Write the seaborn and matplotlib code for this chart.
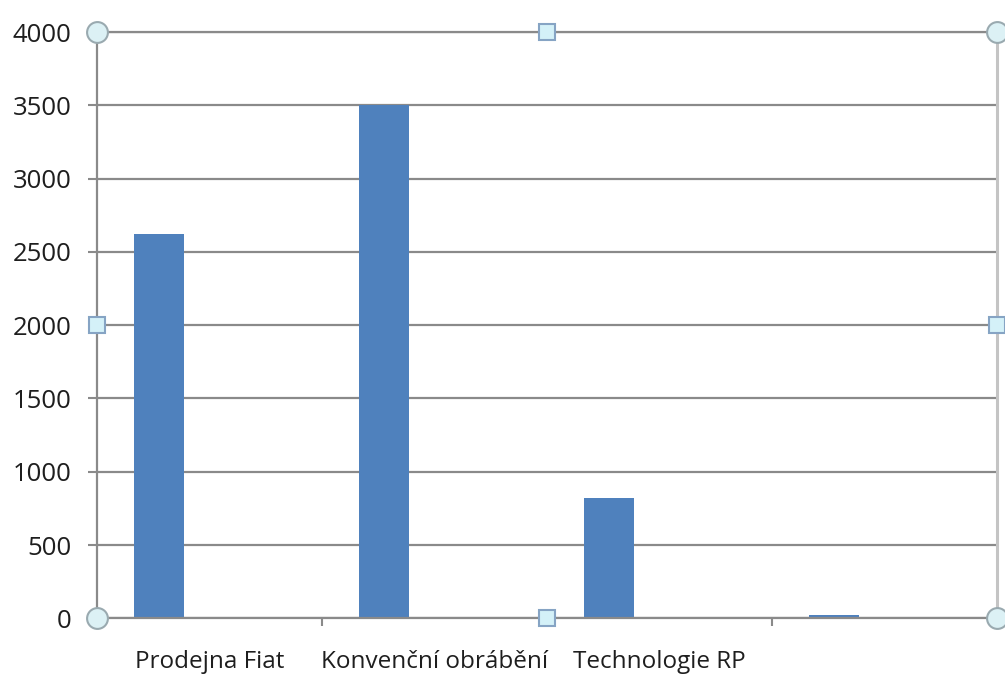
import numpy as np
import pandas as pd
import matplotlib
matplotlib.use("Agg")
import matplotlib.pyplot as plt
import seaborn as sns

# ---- data ----
categories = ["Prodejna Fiat", "Konvenční obrábění", "Technologie RP", "(4)"]
tick_labels = ["Prodejna Fiat", "Konvenční obrábění", "Technologie RP", ""]
series_names = ["Řada 1", "Řada 2", "Řada 3"]
series1 = [2620, 3500, 820, 20]
series2 = [0, 0, 0, 0]
series3 = [0, 0, 0, 0]
y_ticks = [0, 500, 1000, 1500, 2000, 2500, 3000, 3500, 4000]

rows = []
for name, vals in zip(series_names, [series1, series2, series3]):
    for c, v in zip(categories, vals):
        rows.append({"kategorie": c, "řada": name, "hodnota": v})
df = pd.DataFrame(rows)

sns.set_theme(style="white")
plt.rcParams["font.family"] = ["Open Sans", "DejaVu Sans"]

fig = plt.figure(figsize=(10.05, 6.78), dpi=100)
ax = fig.add_axes([97 / 1005, 1 - 618.3 / 678, 900 / 1005, 586.3 / 678])

bar_color = "#4F81BD"
sns.barplot(data=df, x="kategorie", y="hodnota", hue="řada", order=categories,
            hue_order=series_names, palette=[bar_color] * 3, width=0.667,
            linewidth=0, legend=False, ax=ax, errorbar=None, saturation=1)

grid_c = "#8a8a8a"
ax.set_ylim(0, 4000)
ax.set_xlim(-0.5, len(categories) - 0.5)
ax.set_yticks(y_ticks)
ax.set_yticklabels([str(t) for t in y_ticks])
ax.yaxis.grid(True, color=grid_c, linewidth=1.6)
ax.xaxis.grid(False)
ax.set_axisbelow(True)

ax.set_xticks(range(len(categories)))
ax.set_xticklabels(tick_labels)
ax.set_xticks(np.arange(len(categories) - 1) + 0.5, minor=True)
ax.tick_params(axis="x", which="major", length=0, pad=23, labelsize=17.5, labelcolor="#1e1e1e")
ax.tick_params(axis="x", which="minor", length=6, width=1.5, color=grid_c, direction="out", bottom=True)
ax.tick_params(axis="y", which="major", length=6.5, width=1.5, color=grid_c, direction="out",
               pad=12, labelsize=18.5, labelcolor="#1e1e1e", left=True)
ax.set_xlabel("")
ax.set_ylabel("")

for s in ["left", "bottom"]:
    ax.spines[s].set_color(grid_c)
    ax.spines[s].set_linewidth(1.6)
ax.spines["top"].set_color(grid_c)
ax.spines["top"].set_linewidth(1.6)
ax.spines["right"].set_color("#c4c4c4")
ax.spines["right"].set_linewidth(2.2)

# selection handles (Excel-style)
tr = ax.transAxes
for (hx, hy) in [(0, 0), (0, 1), (1, 0), (1, 1)]:
    ax.plot([hx], [hy], marker="o", markersize=15, markerfacecolor="#dcf1f5",
            markeredgecolor="#9aaab0", markeredgewidth=1.5, transform=tr,
            clip_on=False, zorder=10)
for (hx, hy) in [(0.5, 0), (0.5, 1), (0, 0.5), (1, 0.5)]:
    ax.plot([hx], [hy], marker="s", markersize=11, markerfacecolor="#d4f1f8",
            markeredgecolor="#86a4c4", markeredgewidth=1.5, transform=tr,
            clip_on=False, zorder=10)

fig.savefig("out.png", dpi=100, facecolor="white")
